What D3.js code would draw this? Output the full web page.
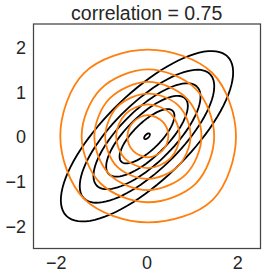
<!DOCTYPE html>
<html>
<head>
<meta charset="utf-8">
<script src="https://cdn.jsdelivr.net/npm/d3@7"></script>
<style>
  body { margin: 0; background: #fff; }
  svg { display: block; }
  text { font-family: "Liberation Sans", Arial, sans-serif; fill: #262626; }
</style>
</head>
<body>
<div id="chart"></div>
<script>
// Data
const titleText = "correlation = 0.75";
const xTicks = [-2, 0, 2];
const yTicks = [-2, -1, 0, 1, 2];

// black contours: ellipses tilted 45deg, semi-axes in data units
const blackMajor = [2.51, 1.96, 1.56, 1.19, 0.80, 0.08];
const blackMinor = [0.95, 0.74, 0.59, 0.45, 0.30, 0.04];
const blackAngle = 45;

// orange contours: radius at each angle (E, NE, N, NW, W, SW, S, SE)
const orangeAngles = [0, 45, 90, 135, 180, 225, 270, 315];
const orangeCenter = [0.02, 0.0];
const orangeRings = [
  [1.94, 2.00, 1.93, 1.99, 1.93, 1.98, 1.92, 2.01],
  [1.46, 1.49, 1.49, 1.48, 1.46, 1.48, 1.47, 1.49],
  [1.18, 1.20, 1.21, 1.19, 1.18, 1.20, 1.20, 1.19],
  [0.94, 0.96, 0.95, 0.94, 0.94, 0.96, 0.95, 0.94],
  [0.70, 0.71, 0.71, 0.70, 0.70, 0.71, 0.71, 0.70],
  [0.45, 0.46, 0.47, 0.45, 0.45, 0.46, 0.47, 0.45]
];

const width = 266, height = 279;
const margin = { left: 33.5, right: 5.5, top: 24, bottom: 30.5 };

const svg = d3.select("#chart").append("svg")
  .attr("width", width)
  .attr("height", height);

const x = d3.scaleLinear().domain([-2.5, 2.5]).range([margin.left, width - margin.right]);
const y = d3.scaleLinear().domain([-2.5, 2.5]).range([height - margin.bottom, margin.top]);

// clip to plot area
svg.append("clipPath").attr("id", "clip")
  .append("rect")
  .attr("x", x(-2.5)).attr("y", y(2.5))
  .attr("width", x(2.5) - x(-2.5)).attr("height", y(-2.5) - y(2.5));

const plot = svg.append("g").attr("clip-path", "url(#clip)");

// ellipse outline through the scales
function ellipsePoints(a, b, deg) {
  const t = deg * Math.PI / 180;
  return d3.range(0, 361, 4).map(k => {
    const u = k * Math.PI / 180;
    const ex = a * Math.cos(u), ey = b * Math.sin(u);
    return [ex * Math.cos(t) - ey * Math.sin(t), ex * Math.sin(t) + ey * Math.cos(t)];
  });
}

const line = d3.line().x(d => x(d[0])).y(d => y(d[1]));

plot.selectAll("path.black")
  .data(blackMajor.map((a, i) => ellipsePoints(a, blackMinor[i], blackAngle)))
  .enter().append("path")
  .attr("class", "black")
  .attr("d", line)
  .attr("fill", "none")
  .attr("stroke", "#000")
  .attr("stroke-width", 1.8);

const ringLine = d3.line()
  .x(d => x(d[0])).y(d => y(d[1]))
  .curve(d3.curveCardinalClosed.tension(0));

plot.selectAll("path.orange")
  .data(orangeRings.map(r => r.map((rad, i) => {
    const u = orangeAngles[i] * Math.PI / 180;
    return [orangeCenter[0] + rad * Math.cos(u), orangeCenter[1] + rad * Math.sin(u)];
  })))
  .enter().append("path")
  .attr("class", "orange")
  .attr("d", ringLine)
  .attr("fill", "none")
  .attr("stroke", "#ff7f0e")
  .attr("stroke-width", 1.8);

// frame
svg.append("rect")
  .attr("x", x(-2.5)).attr("y", y(2.5))
  .attr("width", x(2.5) - x(-2.5)).attr("height", y(-2.5) - y(2.5))
  .attr("fill", "none")
  .attr("stroke", "#444")
  .attr("stroke-width", 1.25);

// tick labels (no tick marks)
const fmt = d => d3.format("d")(d).replace("-", "\u2212");

svg.selectAll("text.xt")
  .data(xTicks)
  .enter().append("text")
  .attr("class", "xt")
  .attr("x", d => x(d))
  .attr("y", 269)
  .attr("text-anchor", "middle")
  .attr("font-size", 18)
  .text(fmt);

svg.selectAll("text.yt")
  .data(yTicks)
  .enter().append("text")
  .attr("class", "yt")
  .attr("x", 26)
  .attr("y", d => y(d))
  .attr("dy", "0.4em")
  .attr("text-anchor", "end")
  .attr("font-size", 18)
  .text(fmt);

svg.append("text")
  .attr("x", 146.7)
  .attr("y", 20)
  .attr("text-anchor", "middle")
  .attr("font-size", 19.5)
  .text(titleText);
</script>
</body>
</html>
